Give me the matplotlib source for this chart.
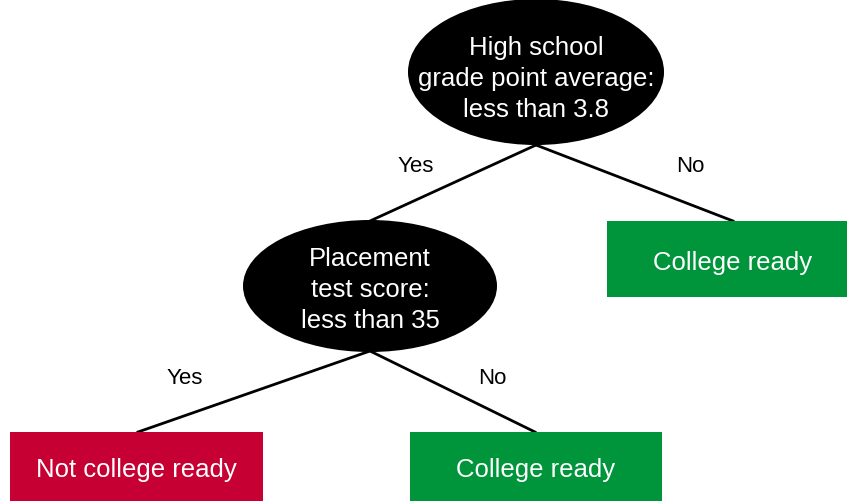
import matplotlib.pyplot as plt
from matplotlib.patches import Ellipse, Rectangle

# Decision tree content
question_labels = ["High school\ngrade point average:\nless than 3.8",
                   "Placement\ntest score:\nless than 35"]
outcome_labels = ["College ready", "Not college ready", "College ready"]
outcome_colors = ["#00953b", "#c60032", "#00953b"]
branch_labels = ["Yes", "No", "Yes", "No"]

# layout in pixel coordinates (x right, y down)
ellipses = [(536, 73, 256, 146), (370, 287, 254, 132)]
text_offsets = [6, 3]
boxes = [(607, 222, 252, 76), (10, 433, 253, 69), (410, 433, 252, 69)]
edges = [((536, 146), (370, 222)), ((536, 146), (733, 222)),
         ((370, 352), (138, 433)), ((370, 352), (535, 433))]
edge_text_pos = [(416, 167), (690, 167), (185, 379), (492, 379)]

plt.rcParams['font.family'] = ['Liberation Sans', 'DejaVu Sans']

fig = plt.figure(figsize=(8.47, 5.02), dpi=100)
ax = fig.add_axes([0, 0, 1, 1])
ax.set_xlim(0, 847)
ax.set_ylim(502, 0)
ax.axis("off")

for (p0, p1) in edges:
    ax.plot([p0[0], p1[0]], [p0[1], p1[1]], color="black", lw=2, zorder=1)

for (cx, cy, w, h), dy, label in zip(ellipses, text_offsets, question_labels):
    ax.add_patch(Ellipse((cx, cy), w, h, facecolor="black", edgecolor="none", zorder=2))
    ax.text(cx, cy + dy, label, color="white", ha="center", va="center",
            fontsize=18.5, linespacing=1.36, zorder=3)

for (x, y, w, h), label, c in zip(boxes, outcome_labels, outcome_colors):
    ax.add_patch(Rectangle((x, y), w, h, facecolor=c, edgecolor="none", zorder=2))
    ax.text(x + w / 2, y + h / 2 + 3, label, color="white", ha="center", va="center",
            fontsize=18.5, zorder=3)

for (tx, ty), label in zip(edge_text_pos, branch_labels):
    ax.text(tx, ty, label, ha="center", va="center", fontsize=16, color="black")

fig.savefig("out.png", dpi=100)
